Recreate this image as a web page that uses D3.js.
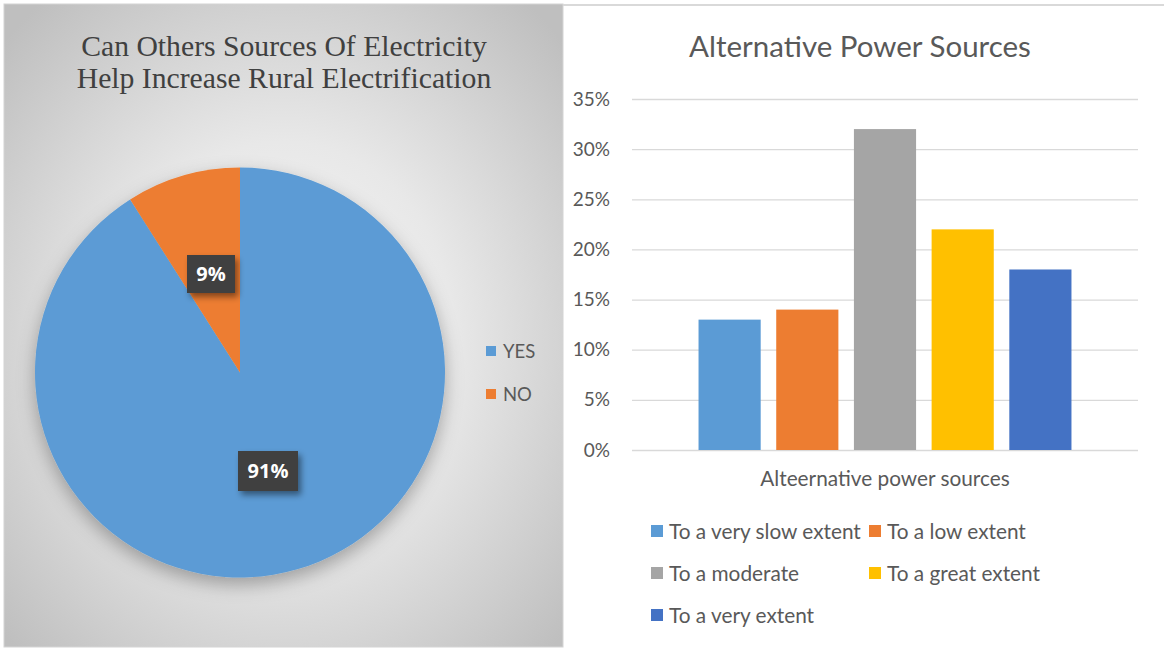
<!DOCTYPE html>
<html>
<head>
<meta charset="utf-8">
<script src="https://cdn.jsdelivr.net/npm/d3@7"></script>
<style>
  html, body { margin: 0; padding: 0; background: #ffffff; }
  svg { display: block; }
</style>
</head>
<body>
<svg id="chart" width="1164" height="649"></svg>
<script>
// ---- Pie data: can other sources help rural electrification ----
const pieCategories = ["YES", "NO"];
const pieValues = [91, 9];
const pieColors = ["#5B9BD5", "#ED7D31"];

// ---- Bar data: alternative power sources ----
const barGroup = ["Alteernative power sources"];
const barSeries = ["To a very slow extent", "To a low extent", "To a moderate", "To a great extent", "To a very extent"];
const barValues = [0.13, 0.14, 0.32, 0.22, 0.18];
const barColors = ["#5B9BD5", "#ED7D31", "#A5A5A5", "#FFC000", "#4472C4"];
const yTicks = [0, 0.05, 0.10, 0.15, 0.20, 0.25, 0.30, 0.35];

const svg = d3.select("#chart");
const defs = svg.append("defs");
const sans = "Lato, 'Open Sans', sans-serif";

// soft radial backdrop for the pie panel
const rg = defs.append("radialGradient").attr("id", "panelBg")
  .attr("cx", "50%").attr("cy", "52%").attr("r", "68%");
rg.append("stop").attr("offset", "0%").attr("stop-color", "#f8f8f8");
rg.append("stop").attr("offset", "45%").attr("stop-color", "#e8e8e8");
rg.append("stop").attr("offset", "100%").attr("stop-color", "#bfbfbf");

const pieShadow = defs.append("filter").attr("id", "pieShadow")
  .attr("x", "-20%").attr("y", "-20%").attr("width", "140%").attr("height", "150%");
pieShadow.append("feDropShadow").attr("dx", 0).attr("dy", 7).attr("stdDeviation", 9)
  .attr("flood-color", "#000").attr("flood-opacity", 0.3);

const boxShadow = defs.append("filter").attr("id", "boxShadow")
  .attr("x", "-30%").attr("y", "-30%").attr("width", "170%").attr("height", "180%");
boxShadow.append("feDropShadow").attr("dx", 3).attr("dy", 4).attr("stdDeviation", 3)
  .attr("flood-color", "#000").attr("flood-opacity", 0.45);

// ================= Left panel: pie =================
svg.append("rect").attr("x", 4).attr("y", 4).attr("width", 559).attr("height", 643)
  .attr("fill", "url(#panelBg)").attr("stroke", "#d4d4d4").attr("stroke-width", 1);

const leftTitle = svg.append("text")
  .attr("text-anchor", "middle")
  .attr("font-family", "'Liberation Serif', 'Times New Roman', serif")
  .attr("font-size", 29.7).attr("fill", "#404040");
leftTitle.append("tspan").attr("x", 284).attr("y", 56).text("Can Others Sources Of Electricity");
leftTitle.append("tspan").attr("x", 284).attr("y", 88).text("Help Increase Rural Electrification");

const cx = 240, cy = 372.5, radius = 205;
const pie = d3.pie().sort(null).value(d => d);
const arcs = pie(pieValues);
const arc = d3.arc().innerRadius(0).outerRadius(radius);

const pieG = svg.append("g").attr("transform", `translate(${cx},${cy})`);
pieG.append("g").attr("filter", "url(#pieShadow)")
  .selectAll("path").data(arcs).join("path")
  .attr("d", arc)
  .attr("fill", (d, i) => pieColors[i]);

// value labels in dark callout boxes
const labelPos = [[28, 98.5], [-29, -98.5]];
const labelBox = [[60, 40], [48, 38]];
const lbl = pieG.selectAll("g.lbl").data(arcs).join("g").attr("class", "lbl")
  .attr("transform", (d, i) => `translate(${labelPos[i][0]},${labelPos[i][1]})`);
lbl.append("rect")
  .attr("x", (d, i) => -labelBox[i][0] / 2).attr("y", (d, i) => -labelBox[i][1] / 2)
  .attr("width", (d, i) => labelBox[i][0]).attr("height", (d, i) => labelBox[i][1])
  .attr("fill", "#404040").attr("filter", "url(#boxShadow)");
lbl.append("text").attr("text-anchor", "middle").attr("dy", "0.36em")
  .attr("font-family", "'Open Sans', 'Noto Sans', sans-serif").attr("font-weight", "bold")
  .attr("font-size", 20).attr("fill", "#ffffff")
  .text(d => d.data + "%");

// legend
const pieLegend = svg.append("g").selectAll("g").data(pieCategories).join("g")
  .attr("transform", (d, i) => `translate(486,${351 + i * 43})`);
pieLegend.append("rect").attr("x", 0).attr("y", -5).attr("width", 10).attr("height", 10)
  .attr("fill", (d, i) => pieColors[i]);
pieLegend.append("text").attr("x", 17).attr("dy", "0.36em")
  .attr("font-family", sans).attr("font-size", 18.5)
  .attr("fill", "#595959").text(d => d);

// ================= Right panel: bars =================
svg.append("line").attr("x1", 563).attr("x2", 1164).attr("y1", 5).attr("y2", 5)
  .attr("stroke", "#d9d9d9").attr("stroke-width", 2);

svg.append("text").attr("x", 860).attr("y", 57).attr("text-anchor", "middle")
  .attr("font-family", sans).attr("font-size", 29.5)
  .attr("fill", "#595959").text("Alternative Power Sources");

const plotL = 632, plotR = 1138, plotT = 99, plotB = 450;
const y = d3.scaleLinear().domain([0, 0.35]).range([plotB, plotT]);
const x0 = d3.scaleBand().domain(barGroup).range([plotL, plotR])
  .paddingInner(0.1514).paddingOuter(0.1514);
const x1 = d3.scaleBand().domain(barSeries).range([0, x0.bandwidth()])
  .paddingInner(0.2).paddingOuter(0);

const yAxis = d3.axisLeft(y).tickValues(yTicks)
  .tickSize(-(plotR - plotL)).tickPadding(22)
  .tickFormat(d3.format(".0%"));
const yG = svg.append("g").attr("transform", `translate(${plotL},0)`).call(yAxis);
yG.select(".domain").remove();
yG.selectAll(".tick line").attr("stroke", "#d9d9d9").attr("stroke-width", 1.3);
yG.selectAll(".tick text").attr("font-family", sans)
  .attr("font-size", 19).attr("fill", "#595959");

const grp = svg.append("g").selectAll("g").data(barGroup).join("g")
  .attr("transform", d => `translate(${x0(d)},0)`);
grp.selectAll("rect").data(barSeries.map((s, i) => ({ s, v: barValues[i], c: barColors[i] })))
  .join("rect")
  .attr("x", d => x1(d.s)).attr("width", x1.bandwidth())
  .attr("y", d => y(d.v)).attr("height", d => y(0) - y(d.v))
  .attr("fill", d => d.c);

svg.append("text").attr("x", x0(barGroup[0]) + x0.bandwidth() / 2).attr("y", 486)
  .attr("text-anchor", "middle")
  .attr("font-family", sans).attr("font-size", 20.8)
  .attr("fill", "#595959").text(barGroup[0]);

// legend: two columns, three rows
const legendPos = [[651, 531], [869, 531], [651, 573], [869, 573], [651, 615]];
const barLegend = svg.append("g").selectAll("g").data(barSeries).join("g")
  .attr("transform", (d, i) => `translate(${legendPos[i][0]},${legendPos[i][1]})`);
barLegend.append("rect").attr("x", 0).attr("y", -6).attr("width", 12).attr("height", 12)
  .attr("fill", (d, i) => barColors[i]);
barLegend.append("text").attr("x", 18).attr("dy", "0.36em")
  .attr("font-family", sans).attr("font-size", 20.8)
  .attr("fill", "#595959").text(d => d);
</script>
</body>
</html>
